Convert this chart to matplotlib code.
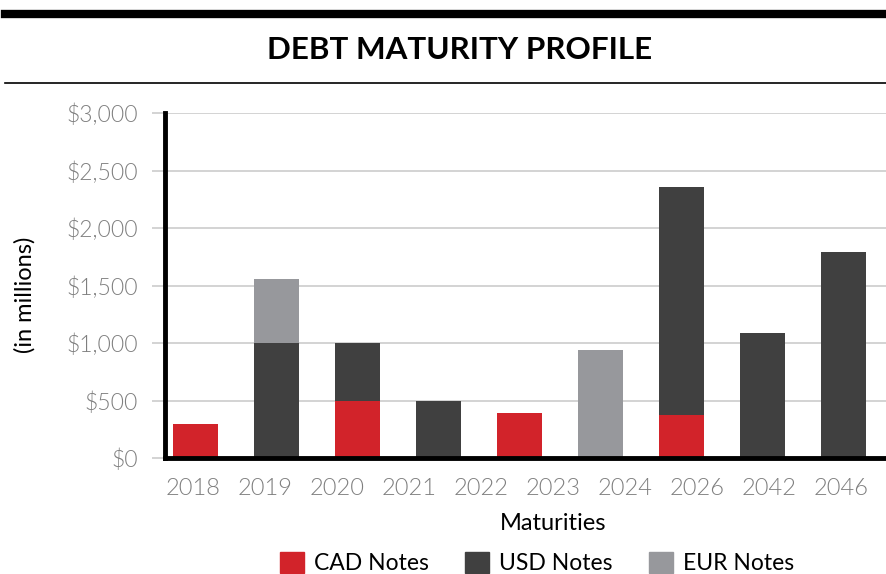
import matplotlib.pyplot as plt
from matplotlib.patches import Patch
from matplotlib.ticker import FuncFormatter
import numpy as np

plt.rcParams['font.family'] = ['Lato', 'DejaVu Sans']

# bars (one slot per maturity that has notes outstanding)
bar_years = ['2018', '2019', '2020', '2021', '2022', '2024', '2026', '2042', '2046']
cad = [300, 0, 500, 0, 390, 0, 370, 0, 0]
usd = [0, 1000, 500, 500, 0, 0, 1990, 1090, 1790]
eur = [0, 560, 0, 0, 0, 935, 0, 0, 0]

# axis labels run across the full range of years
tick_years = ['2018', '2019', '2020', '2021', '2022', '2023', '2024', '2026', '2042', '2046']

RED = '#d2232a'
DARK = '#404040'
GREY = '#97989c'
TICK_GREY = '#7f7f7f'

fig = plt.figure(figsize=(8.86, 5.74), dpi=100)

# header: thick rule, title, thin rule
fig.add_artist(plt.Line2D([5/886, 1], [1 - 14/574] * 2, color='black', lw=6))
fig.add_artist(plt.Line2D([5/886, 1], [1 - 83/574] * 2, color='black', lw=1.2))
fig.text(460/886, 1 - 50/574, 'DEBT MATURITY PROFILE', ha='center', va='center',
         fontsize=22.6, fontweight='bold', color='black')

ax = fig.add_axes([165/886, 1 - 458/574, 721/886, 345/574])
x = np.arange(len(bar_years))
cad = np.array(cad)
usd = np.array(usd)
eur = np.array(eur)
w = 0.556
ax.bar(x, cad, w, color=RED, zorder=3)
ax.bar(x, usd, w, bottom=cad, color=DARK, zorder=3)
ax.bar(x, eur, w, bottom=cad + usd, color=GREY, zorder=3)

ax.set_xlim(-0.377, 8.525)
ax.set_ylim(0, 3000)
ax.set_yticks(range(0, 3001, 500))
ax.yaxis.set_major_formatter(FuncFormatter(lambda v, p: '${:,.0f}'.format(v)))
ax.set_xticks(np.linspace(-0.031, 7.975, len(tick_years)))
ax.set_xticklabels(tick_years)
ax.grid(axis='y', color='#cccccc', lw=1.2, zorder=0)

for s in ['top', 'right']:
    ax.spines[s].set_visible(False)
ax.spines['left'].set_linewidth(3.5)
ax.spines['bottom'].set_linewidth(3.5)
ax.spines['left'].set_zorder(4)
ax.spines['bottom'].set_zorder(4)

ax.tick_params(axis='y', length=9.5, width=1.2, color='#cccccc', pad=10,
               labelsize=16.5, labelcolor=TICK_GREY)
ax.tick_params(axis='x', length=0, pad=14.5, labelsize=17, labelcolor=TICK_GREY)
for lab in ax.get_xticklabels() + ax.get_yticklabels():
    lab.set_fontweight(300)

fig.text(553/886, 1 - 523/574, 'Maturities', ha='center', va='center', fontsize=17)
fig.text(25/886, 1 - 295/574, '(in millions)', rotation=90, ha='center', va='center',
         fontsize=17)

handles = [Patch(color=RED, label='CAD Notes'),
           Patch(color=DARK, label='USD Notes'),
           Patch(color=GREY, label='EUR Notes')]
fig.legend(handles=handles, loc='center', bbox_to_anchor=(537/886, 1 - 563/574), ncol=3,
           frameon=False, fontsize=16.5, handlelength=1.05, handleheight=1.05,
           handletextpad=0.45, columnspacing=1.57)

fig.savefig('out.png', dpi=100)
